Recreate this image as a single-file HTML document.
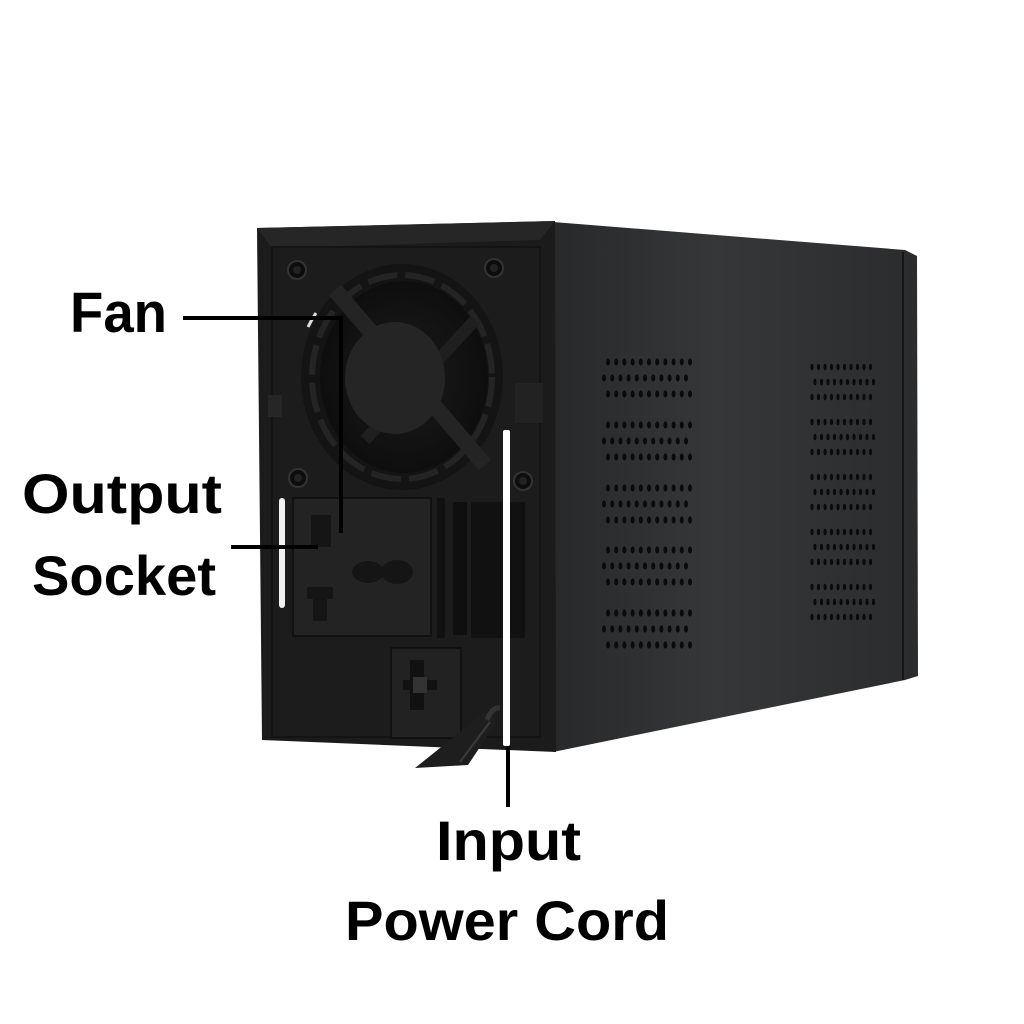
<!DOCTYPE html>
<html><head><meta charset="utf-8"><style>
html,body{margin:0;padding:0;background:#fff;}
svg{display:block;}
text{font-family:"Liberation Sans",sans-serif;font-weight:bold;fill:#000;}
</style></head><body>
<svg width="1024" height="1024" viewBox="0 0 1024 1024" xmlns="http://www.w3.org/2000/svg">
<defs>
<linearGradient id="side" x1="0" y1="0" x2="1" y2="0">
<stop offset="0" stop-color="#28292a"/>
<stop offset="0.45" stop-color="#363738"/>
<stop offset="1" stop-color="#2b2c2d"/>
</linearGradient>
<radialGradient id="fan" cx="0.5" cy="0.5" r="0.5">
<stop offset="0" stop-color="#1c1c1c"/>
<stop offset="1" stop-color="#0e0e0e"/>
</radialGradient>
</defs>
<rect width="1024" height="1024" fill="#fff"/>
<polygon points="553,222 905,250 917,256 918,676 905,680 553,752" fill="url(#side)"/>
<line x1="903" y1="252" x2="903" y2="680" stroke="#151515" stroke-width="2"/>
<polygon points="257,228 555,221 556,752 262,740" fill="#1b1b1b"/>
<polygon points="257,228 555,221 540,240 272,248" fill="#262626"/>
<rect x="272" y="247" width="268" height="490" fill="#1c1c1c" stroke="#111" stroke-width="1.5"/>
<ellipse cx="402" cy="377" rx="101" ry="113" fill="#141414"/>
<ellipse cx="402" cy="377" rx="90" ry="102" fill="none" stroke="#242424" stroke-width="6" stroke-dasharray="30 8"/>
<ellipse cx="404" cy="377" rx="84" ry="96" fill="url(#fan)"/>
<line x1="335" y1="290" x2="485" y2="465" stroke="#242424" stroke-width="16"/>
<line x1="475" y1="320" x2="365" y2="440" stroke="#1f1f1f" stroke-width="12"/>
<ellipse cx="395" cy="378" rx="50" ry="56" fill="#252525"/>
<path d="M308 327 A100 112 0 0 1 316 313" stroke="#ddd" stroke-width="3" fill="none"/>
<g fill="#0d0d0d" stroke="#333" stroke-width="2">
<circle cx="297" cy="270" r="9"/><circle cx="494" cy="268" r="9"/>
<circle cx="298" cy="478" r="9"/><circle cx="523" cy="481" r="9"/>
</g>
<g fill="#222"><circle cx="297" cy="270" r="4"/><circle cx="494" cy="268" r="4"/><circle cx="298" cy="478" r="4"/><circle cx="523" cy="481" r="4"/></g>
<rect x="268" y="395" width="14" height="22" fill="#262626"/>
<rect x="515" y="383" width="28" height="40" fill="#222"/>
<rect x="293" y="498" width="138" height="138" fill="#232323" stroke="#111" stroke-width="2"/>
<rect x="311" y="515" width="20" height="32" fill="#151515"/>
<rect x="307" y="587" width="26" height="12" fill="#151515"/>
<rect x="313" y="597" width="14" height="24" fill="#151515"/>
<ellipse cx="368" cy="572" rx="16" ry="11" fill="#151515"/>
<ellipse cx="397" cy="572" rx="16" ry="12" fill="#151515"/>
<rect x="365" y="567" width="34" height="10" fill="#151515"/>
<rect x="437" y="498" width="8" height="140" fill="#111"/>
<rect x="453" y="502" width="14" height="133" fill="#0f0f0f"/>
<rect x="471" y="502" width="54" height="136" fill="#111"/>
<rect x="391" y="648" width="70" height="90" fill="#222" stroke="#111" stroke-width="2"/>
<rect x="410" y="660" width="14" height="50" fill="#111"/>
<rect x="403" y="680" width="34" height="10" fill="#111"/>
<rect x="413" y="677" width="14" height="16" fill="#333"/>
<polygon points="485,712 498,720 468,765 415,768" fill="#1e1e1e"/>
<line x1="490" y1="722" x2="460" y2="762" stroke="#3a3a3a" stroke-width="2"/>
<path d="M487 720 Q492 707 500 708" stroke="#333" stroke-width="5" fill="none"/>
<rect x="279" y="498" width="6" height="110" rx="3" fill="#f2f2f2"/>
<rect x="503" y="430" width="7" height="316" rx="2" fill="#fff"/>
<g fill="#0a0a0a" id="vents"></g>
<g stroke="#000" stroke-width="4" fill="none">
<polyline points="183,318 341,318 341,533"/>
<line x1="231" y1="547" x2="318" y2="547"/>
<line x1="508" y1="746" x2="508" y2="807"/>
</g>
<text x="70" y="332" font-size="57" textLength="97" lengthAdjust="spacingAndGlyphs">Fan</text>
<text x="22" y="513" font-size="56" textLength="200" lengthAdjust="spacingAndGlyphs">Output</text>
<text x="32" y="595" font-size="56" textLength="184" lengthAdjust="spacingAndGlyphs">Socket</text>
<text x="436" y="860" font-size="56" textLength="145" lengthAdjust="spacingAndGlyphs">Input</text>
<text x="345" y="940" font-size="56" textLength="324" lengthAdjust="spacingAndGlyphs">Power Cord</text>
</svg>
<script>
(function(){
var g=document.getElementById('vents'),h='';
var L=[362,425,488,550,613];
L.forEach(function(y0){for(var r=0;r<3;r++){var y=y0+r*16,off=(r==1)?-4:0;for(var c=0;c<11;c++){h+='<ellipse cx="'+(608+off+c*8.2)+'" cy="'+y+'" rx="2" ry="3.6"/>';}}});
var R=[367,422,477,532,587];
R.forEach(function(y0){for(var r=0;r<3;r++){var y=y0+r*15,off=(r==1)?3:0;for(var c=0;c<10;c++){h+='<ellipse cx="'+(812+off+c*6.5)+'" cy="'+y+'" rx="1.6" ry="3.3"/>';}}});
g.innerHTML=h;
})();
</script>
</body></html>
